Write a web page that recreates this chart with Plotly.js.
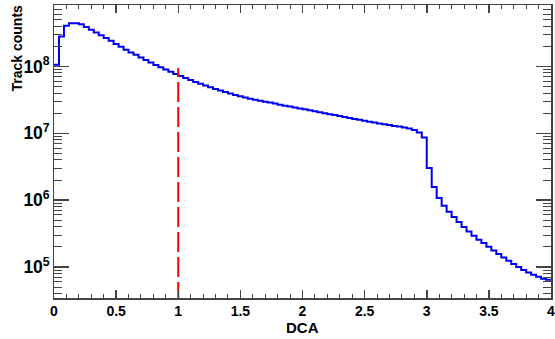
<!DOCTYPE html>
<html>
<head>
<meta charset="utf-8">
<script src="https://cdn.plot.ly/plotly-3.0.1.min.js"></script>
<style>html,body{margin:0;padding:0;background:#fff;}#chart{width:555px;height:339px;}</style>
</head>
<body>
<div id="chart"></div>
<script>
// Histogram of DCA: 100 bins of width 0.04 from 0 to 4
const binWidth = 0.04;
const dcaMin = 0;
const trackCounts = [
  1.06e8, 2.81e8, 4.06e8, 4.40e8, 4.40e8, 4.25e8, 3.88e8, 3.54e8, 3.22e8, 2.91e8,
  2.66e8, 2.42e8, 2.16e8, 1.96e8, 1.78e8, 1.62e8, 1.49e8, 1.36e8, 1.25e8, 1.14e8,
  1.05e8, 9.73e7, 8.99e7, 8.30e7, 7.70e7, 7.16e7, 6.68e7, 6.26e7, 5.86e7, 5.51e7,
  5.18e7, 4.89e7, 4.61e7, 4.36e7, 4.14e7, 3.93e7, 3.75e7, 3.58e7, 3.43e7, 3.29e7,
  3.17e7, 3.06e7, 2.97e7, 2.88e7, 2.78e7, 2.68e7, 2.59e7, 2.51e7, 2.43e7, 2.35e7,
  2.28e7, 2.20e7, 2.13e7, 2.06e7, 2.00e7, 1.93e7, 1.87e7, 1.81e7, 1.75e7, 1.69e7,
  1.64e7, 1.59e7, 1.54e7, 1.49e7, 1.45e7, 1.40e7, 1.37e7, 1.33e7, 1.29e7, 1.26e7,
  1.22e7, 1.18e7, 1.12e7, 1.03e7, 8.67e6, 3.02e6, 1.57e6, 1.08e6, 8.26e5, 6.72e5,
  5.60e5, 4.71e5, 3.97e5, 3.41e5, 2.94e5, 2.56e5, 2.29e5, 2.01e5, 1.77e5, 1.56e5,
  1.39e5, 1.24e5, 1.11e5, 1.00e5, 9.02e4, 8.30e4, 7.67e4, 7.16e4, 6.69e4, 6.46e4
];
const cutX = [1, 1];
const cutY = [3.0e4, 9.5e7];
const xTickVals = [0, 0.5, 1, 1.5, 2, 2.5, 3, 3.5, 4];
const xTickText = ["0", "0.5", "1", "1.5", "2", "2.5", "3", "3.5", "4"];

// step line: left edges plus the last right edge
const stepX = trackCounts.map((_, i) => dcaMin + i * binWidth);
stepX.push(dcaMin + trackCounts.length * binWidth);
const stepY = trackCounts.slice();
stepY.push(trackCounts[trackCounts.length - 1]);

const axisColor = '#444';
const fontFam = 'Liberation Sans, Arial, Helvetica, sans-serif';

const traces = [
  {
    x: stepX, y: stepY, type: 'scatter', mode: 'lines',
    line: {shape: 'hv', color: '#0000f0', width: 2},
    hoverinfo: 'skip'
  },
  {
    x: cutX, y: cutY, type: 'scatter', mode: 'lines',
    line: {color: '#ff0000', width: 2, dash: '20px,5px'},
    hoverinfo: 'skip'
  }
];

const layout = {
  width: 555, height: 339,
  margin: {l: 54, r: 4, t: 5, b: 41, pad: 0},
  paper_bgcolor: '#fff', plot_bgcolor: '#fff',
  showlegend: false,
  xaxis: {
    range: [0, 4], showgrid: false, zeroline: false,
    showline: true, mirror: 'allticks', linecolor: axisColor, linewidth: 1.5,
    ticks: 'inside', ticklen: 8, tickwidth: 1.5, tickcolor: axisColor,
    tickmode: 'array', tickvals: xTickVals, ticktext: xTickText,
    ticklabeloverflow: 'allow',
    minor: {ticks: 'inside', ticklen: 4, tickwidth: 1, tickcolor: axisColor, dtick: 0.1, tick0: 0, showgrid: false},
    tickfont: {family: fontFam, size: 14, weight: 'bold', color: '#000'}
  },
  yaxis: {
    type: 'log', range: [4.537, 8.918], showgrid: false, zeroline: false,
    showline: true, mirror: 'allticks', linecolor: axisColor, linewidth: 1.5,
    ticks: 'inside', ticklen: 15, tickwidth: 1.5, tickcolor: axisColor,
    dtick: 1, exponentformat: 'power',
    minor: {ticks: 'inside', ticklen: 8, tickwidth: 1, tickcolor: axisColor, dtick: 'D1', showgrid: false},
    tickfont: {family: fontFam, size: 14, weight: 'bold', color: '#000'}
  },
  annotations: [
    {
      text: 'Track counts', xref: 'paper', yref: 'paper', x: 0, y: 1,
      xanchor: 'center', yanchor: 'top', xshift: -38, yshift: 2, textangle: -90,
      showarrow: false, font: {family: fontFam, size: 14, weight: 'bold', color: '#000'}
    },
    {
      text: 'DCA', xref: 'paper', yref: 'paper', x: 0.5, y: 0,
      xanchor: 'center', yanchor: 'middle', yshift: -29,
      showarrow: false, font: {family: fontFam, size: 15, weight: 'bold', color: '#000'}
    }
  ]
};

Plotly.newPlot('chart', traces, layout, {staticPlot: true, displayModeBar: false});
</script>
</body>
</html>
